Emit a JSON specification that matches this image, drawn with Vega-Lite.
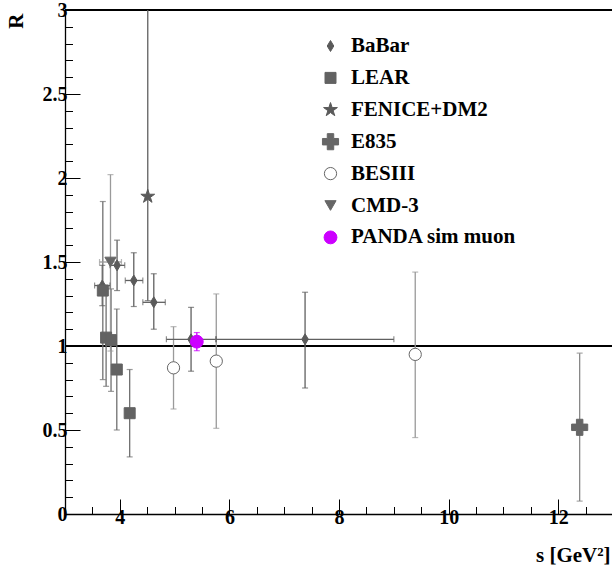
{
  "$schema": "https://vega.github.io/schema/vega-lite/v6.json",
  "width": 547,
  "height": 504,
  "autosize": {"type": "none"},
  "padding": {"left": 65, "top": 10, "right": 0, "bottom": 61},
  "config": {
    "view": {"stroke": null},
    "font": "Liberation Serif",
    "axis": {
      "labelFont": "Liberation Serif", "labelFontWeight": "bold", "labelFontSize": 20, "labelColor": "black",
      "domainColor": "black", "tickColor": "black", "grid": false, "labelFlush": false, "labelOverlap": false,
      "titleFont": "Liberation Serif", "titleFontWeight": "bold", "titleFontSize": 21, "titleColor": "black"
    },
    "legend": {"title": null, "labelFont": "Liberation Serif", "labelFontWeight": "bold", "labelFontSize": 21, "labelColor": "black", "labelLimit": 400, "rowPadding": 9.9, "labelOffset": 10, "padding": 0, "symbolStrokeWidth": 1}
  },
  "data": {"values": [
    {"series": "BaBar", "s": 3.68, "R": 1.36, "Rlo": 1.24, "Rhi": 1.48, "slo": 3.54, "shi": 3.82},
    {"series": "BaBar", "s": 3.95, "R": 1.48, "Rlo": 1.33, "Rhi": 1.63, "slo": 3.82, "shi": 4.09},
    {"series": "BaBar", "s": 4.255, "R": 1.39, "Rlo": 1.235, "Rhi": 1.555, "slo": 4.10, "shi": 4.42},
    {"series": "BaBar", "s": 4.62, "R": 1.26, "Rlo": 1.10, "Rhi": 1.43, "slo": 4.42, "shi": 4.83},
    {"series": "BaBar", "s": 5.30, "R": 1.04, "Rlo": 0.85, "Rhi": 1.23, "slo": 4.85, "shi": 5.75},
    {"series": "BaBar", "s": 7.38, "R": 1.04, "Rlo": 0.75, "Rhi": 1.32, "slo": 5.76, "shi": 9.00},
    {"series": "LEAR", "s": 3.69, "R": 1.33, "Rlo": 0.80, "Rhi": 1.86},
    {"series": "LEAR", "s": 3.75, "R": 1.05, "Rlo": 0.76, "Rhi": 1.34},
    {"series": "LEAR", "s": 3.84, "R": 1.035, "Rlo": 0.73, "Rhi": 1.34},
    {"series": "LEAR", "s": 3.945, "R": 0.86, "Rlo": 0.50, "Rhi": 1.22},
    {"series": "LEAR", "s": 4.18, "R": 0.60, "Rlo": 0.34, "Rhi": 0.86},
    {"series": "FENICE+DM2", "s": 4.51, "R": 1.89, "Rlo": 1.27, "Rhi": 3.3},
    {"series": "E835", "s": 12.39, "R": 0.516, "Rlo": 0.077, "Rhi": 0.957},
    {"series": "BESIII", "s": 4.98, "R": 0.87, "Rlo": 0.625, "Rhi": 1.115},
    {"series": "BESIII", "s": 5.76, "R": 0.91, "Rlo": 0.51, "Rhi": 1.31},
    {"series": "BESIII", "s": 9.39, "R": 0.95, "Rlo": 0.455, "Rhi": 1.44},
    {"series": "CMD-3", "s": 3.83, "R": 1.50, "Rlo": 0.97, "Rhi": 2.02, "slo": 3.63, "shi": 4.03},
    {"series": "PANDA sim muon", "s": 5.405, "R": 1.026, "Rlo": 0.972, "Rhi": 1.08}
  ]},
  "resolve": {"axis": {"x": "independent", "y": "independent"}},
  "layer": [
    {
      "mark": {"type": "rule", "color": "black", "strokeWidth": 1.3},
      "encoding": {"y": {"datum": 1, "type": "quantitative", "scale": {"domain": [0, 3], "nice": false, "zero": false}, "axis": null}}
    },
    {
      "mark": {"type": "rule", "color": "black", "strokeWidth": 1},
      "encoding": {"y": {"datum": 3, "type": "quantitative", "axis": null}}
    },
    {
      "mark": {"type": "rule", "strokeWidth": 1.3, "clip": true},
      "encoding": {
        "x": {"field": "s", "type": "quantitative", "scale": {"domain": [3, 12.98], "nice": false, "zero": false},
              "axis": {"orient": "bottom", "values": [4, 6, 8, 10, 12], "tickSize": -15, "labelPadding": 8, "domainWidth": 1.3,
                       "title": "s [GeV²]", "titleAnchor": "end", "titleAlign": "right", "titleBaseline": "alphabetic", "titleX": 545, "titleY": 47}},
        "y": {"field": "Rlo", "type": "quantitative",
              "axis": {"orient": "left", "values": [0, 0.5, 1, 1.5, 2, 2.5, 3], "format": "~g", "tickSize": -15, "labelPadding": 13, "domainWidth": 1.3,
                       "title": "R", "titleAngle": 270, "titleAlign": "right", "titleBaseline": "alphabetic", "titleX": -43, "titleY": 3}},
        "y2": {"field": "Rhi"},
        "color": {"field": "series", "type": "nominal", "legend": null,
                  "scale": {"domain": ["PANDA sim muon", "CMD-3", "BESIII", "E835", "FENICE+DM2", "LEAR", "BaBar"],
                            "range": ["#cc00ff", "#9a9a9a", "#9a9a9a", "#888888", "#606060", "#707070", "#606060"]}}
      }
    },
    {
      "transform": [{"filter": "isValid(datum.slo)"}],
      "mark": {"type": "rule", "strokeWidth": 1.3},
      "encoding": {
        "x": {"field": "slo", "type": "quantitative",
              "axis": {"orient": "bottom", "values": [3.5, 4.5, 5, 5.5, 6.5, 7, 7.5, 8.5, 9, 9.5, 10.5, 11, 11.5, 12.5], "tickSize": -7.5, "labels": false, "domain": false, "title": null}},
        "x2": {"field": "shi"},
        "y": {"field": "R", "type": "quantitative",
              "axis": {"orient": "left", "values": [0.1, 0.2, 0.3, 0.4, 0.6, 0.7, 0.8, 0.9, 1.1, 1.2, 1.3, 1.4, 1.6, 1.7, 1.8, 1.9, 2.1, 2.2, 2.3, 2.4, 2.6, 2.7, 2.8, 2.9], "tickSize": -7.5, "labels": false, "domain": false, "title": null}},
        "color": {"field": "series", "type": "nominal", "legend": null}
      }
    },
    {
      "mark": {"type": "tick", "orient": "horizontal", "size": 6, "thickness": 1.2, "clip": true},
      "encoding": {
        "x": {"field": "s", "type": "quantitative", "axis": null},
        "y": {"field": "Rlo", "type": "quantitative", "axis": null},
        "color": {"field": "series", "type": "nominal", "legend": null}
      }
    },
    {
      "mark": {"type": "tick", "orient": "horizontal", "size": 6, "thickness": 1.2, "clip": true},
      "encoding": {
        "x": {"field": "s", "type": "quantitative", "axis": null},
        "y": {"field": "Rhi", "type": "quantitative", "axis": null},
        "color": {"field": "series", "type": "nominal", "legend": null}
      }
    },
    {
      "transform": [{"filter": "isValid(datum.slo)"}],
      "mark": {"type": "tick", "orient": "vertical", "size": 6, "thickness": 1.2},
      "encoding": {
        "x": {"field": "slo", "type": "quantitative", "axis": null},
        "y": {"field": "R", "type": "quantitative", "axis": null},
        "color": {"field": "series", "type": "nominal", "legend": null}
      }
    },
    {
      "transform": [{"filter": "isValid(datum.slo)"}],
      "mark": {"type": "tick", "orient": "vertical", "size": 6, "thickness": 1.2},
      "encoding": {
        "x": {"field": "shi", "type": "quantitative", "axis": null},
        "y": {"field": "R", "type": "quantitative", "axis": null},
        "color": {"field": "series", "type": "nominal", "legend": null}
      }
    },
    {
      "mark": {"type": "point", "strokeWidth": 1, "opacity": 1},
      "encoding": {
        "x": {"field": "s", "type": "quantitative", "axis": null},
        "y": {"field": "R", "type": "quantitative", "axis": null},
        "shape": {"field": "series", "type": "nominal",
                  "scale": {"domain": ["BaBar", "LEAR", "FENICE+DM2", "E835", "BESIII", "CMD-3", "PANDA sim muon"],
                            "range": ["M0,-1L0.6,0L0,1L-0.6,0Z", "square", "M0,-1L0.2245,-0.309L0.951,-0.309L0.363,0.118L0.588,0.809L0,0.382L-0.588,0.809L-0.363,0.118L-0.951,-0.309L-0.2245,-0.309Z", "cross", "circle", "triangle-down", "circle"]},
                  "legend": {"orient": "none", "legendX": 255, "legendY": 25.5, "labelFont": "Times New Roman", "labelFontWeight": "bold", "labelFontSize": 21, "labelLimit": 400,
                             "encode": {"labels": {"update": {"font": {"value": "Times New Roman"}, "fontWeight": {"value": "bold"}, "fill": {"value": "black"}}}}}},
        "fill": {"field": "series", "type": "nominal",
                 "scale": {"domain": ["BaBar", "LEAR", "FENICE+DM2", "E835", "BESIII", "CMD-3", "PANDA sim muon"],
                           "range": ["#5a5a5a", "#626262", "#5a5a5a", "#666666", "#ffffff", "#666666", "#cc00ff"]},
                 "legend": {"orient": "none", "legendX": 255, "legendY": 25.5, "labelFont": "Times New Roman", "labelFontWeight": "bold", "labelFontSize": 21, "labelLimit": 400,
                            "encode": {"labels": {"update": {"font": {"value": "Times New Roman"}, "fontWeight": {"value": "bold"}, "fill": {"value": "black"}}}}}},
        "stroke": {"field": "series", "type": "nominal",
                   "scale": {"domain": ["BaBar", "LEAR", "FENICE+DM2", "E835", "BESIII", "CMD-3", "PANDA sim muon"],
                             "range": ["#5a5a5a", "#626262", "#5a5a5a", "#666666", "#666666", "#666666", "#cc00ff"]},
                   "legend": {"orient": "none", "legendX": 255, "legendY": 25.5, "labelFont": "Times New Roman", "labelFontWeight": "bold", "labelFontSize": 21, "labelLimit": 400,
                              "encode": {"labels": {"update": {"font": {"value": "Times New Roman"}, "fontWeight": {"value": "bold"}, "fill": {"value": "black"}}}}}},
        "size": {"field": "series", "type": "nominal",
                 "scale": {"type": "ordinal", "domain": ["BaBar", "LEAR", "FENICE+DM2", "E835", "BESIII", "CMD-3", "PANDA sim muon"],
                           "range": [120, 121, 210, 260, 150, 125, 165]},
                 "legend": {"orient": "none", "legendX": 255, "legendY": 25.5, "labelFont": "Times New Roman", "labelFontWeight": "bold", "labelFontSize": 21, "labelLimit": 400,
                            "encode": {"labels": {"update": {"font": {"value": "Times New Roman"}, "fontWeight": {"value": "bold"}, "fill": {"value": "black"}}}}}}
      }
    }
  ]
}
